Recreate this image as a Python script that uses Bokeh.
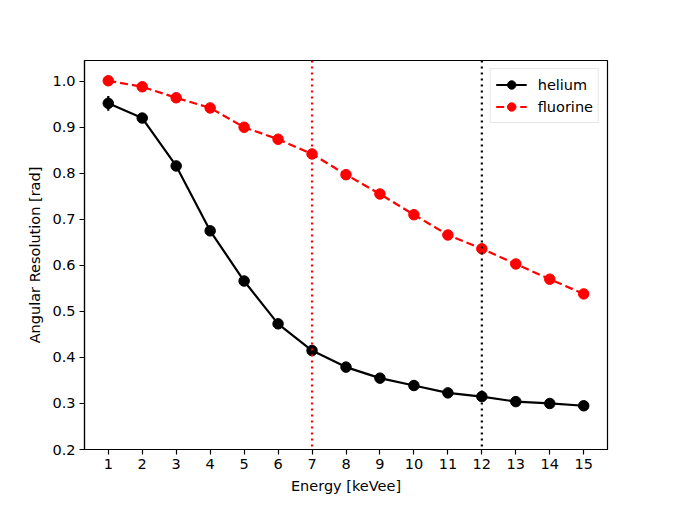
from bokeh.plotting import figure
from bokeh.models import Span, Legend, LegendItem, Range1d, FixedTicker, ColumnDataSource
from bokeh.embed import file_html
from bokeh.resources import INLINE

energy = [1, 2, 3, 4, 5, 6, 7, 8, 9, 10, 11, 12, 13, 14, 15]
helium = [0.952, 0.920, 0.816, 0.675, 0.566, 0.473, 0.415, 0.379, 0.355, 0.339, 0.323, 0.315, 0.304, 0.300, 0.295]
helium_err = [0.016, 0.005, 0.004, 0.004, 0.004, 0.003, 0.003, 0.003, 0.003, 0.003, 0.003, 0.003, 0.003, 0.003, 0.003]
fluorine = [1.001, 0.988, 0.964, 0.942, 0.900, 0.874, 0.842, 0.797, 0.755, 0.710, 0.666, 0.636, 0.603, 0.570, 0.538]
fluorine_err = [0.004, 0.004, 0.004, 0.004, 0.004, 0.004, 0.004, 0.004, 0.004, 0.004, 0.004, 0.004, 0.004, 0.004, 0.004]
x_ticks = list(range(1, 16))
y_ticks = [0.2, 0.3, 0.4, 0.5, 0.6, 0.7, 0.8, 0.9, 1.0]
helium_cut = 12
fluorine_cut = 7

FONT = "DejaVu Sans"
FS = "14.5px"

p = figure(frame_width=523, frame_height=389, min_border_left=84, min_border_top=60,
           min_border_right=51, min_border_bottom=48,
           output_backend="svg", toolbar_location=None,
           x_range=Range1d(0.3, 15.7), y_range=Range1d(0.2, 1.045))
p.xgrid.visible = False
p.ygrid.visible = False
p.outline_line_color = "black"
p.outline_line_width = 1.2
p.background_fill_color = "white"
p.border_fill_color = "white"

for ax in (p.xaxis[0], p.yaxis[0]):
    ax.major_tick_in = 0
    ax.major_tick_out = 5
    ax.minor_tick_in = 0
    ax.minor_tick_out = 0
    ax.axis_line_width = 1.2
    ax.major_tick_line_width = 1.2
    ax.major_label_text_font = FONT
    ax.major_label_text_font_size = FS
    ax.major_label_text_color = "black"
    ax.axis_label_text_font = FONT
    ax.axis_label_text_font_size = FS
    ax.axis_label_text_font_style = "normal"
    ax.axis_label_text_color = "black"
    ax.major_label_standoff = 4
    ax.axis_label_standoff = 6

p.xaxis.ticker = FixedTicker(ticks=x_ticks)
p.yaxis.ticker = FixedTicker(ticks=y_ticks)
p.yaxis.major_label_overrides = {t: f"{t:.1f}" for t in y_ticks}
p.xaxis.axis_label = "Energy [keVee]"
p.yaxis.axis_label = "Angular Resolution [rad]"

p.add_layout(Span(location=fluorine_cut, dimension="height", line_color="red",
                  line_dash="2 4", line_width=2.2))
p.add_layout(Span(location=helium_cut, dimension="height", line_color="black",
                  line_dash="2 4", line_width=2.2))

hs = ColumnDataSource(dict(x=energy, y=helium,
                           lo=[v - e for v, e in zip(helium, helium_err)],
                           hi=[v + e for v, e in zip(helium, helium_err)]))
fs = ColumnDataSource(dict(x=energy, y=fluorine,
                           lo=[v - e for v, e in zip(fluorine, fluorine_err)],
                           hi=[v + e for v, e in zip(fluorine, fluorine_err)]))

h_line = p.line("x", "y", source=hs, line_color="black", line_width=2.2)
h_err = p.segment(x0="x", y0="lo", x1="x", y1="hi", source=hs, line_color="black", line_width=2.2)
h_pts = p.scatter("x", "y", source=hs, size=10.5, fill_color="black", line_color="black")

f_line = p.line("x", "y", source=fs, line_color="red", line_width=2.2, line_dash="8 4")
f_err = p.segment(x0="x", y0="lo", x1="x", y1="hi", source=fs, line_color="red", line_width=2.2)
f_pts = p.scatter("x", "y", source=fs, size=10.5, fill_color="red", line_color="red")

legend = Legend(items=[LegendItem(label="helium", renderers=[h_line, h_pts]),
                       LegendItem(label="fluorine", renderers=[f_line, f_pts])],
                location="top_right", margin=8, padding=5, spacing=1,
                glyph_width=31, glyph_height=21, label_height=21, label_standoff=11,
                label_text_font=FONT, label_text_font_size=FS, label_text_color="black",
                border_line_color="#cccccc", border_line_width=1,
                background_fill_alpha=0.8)
p.add_layout(legend)

open("out.html", "w").write(file_html(p, INLINE))
